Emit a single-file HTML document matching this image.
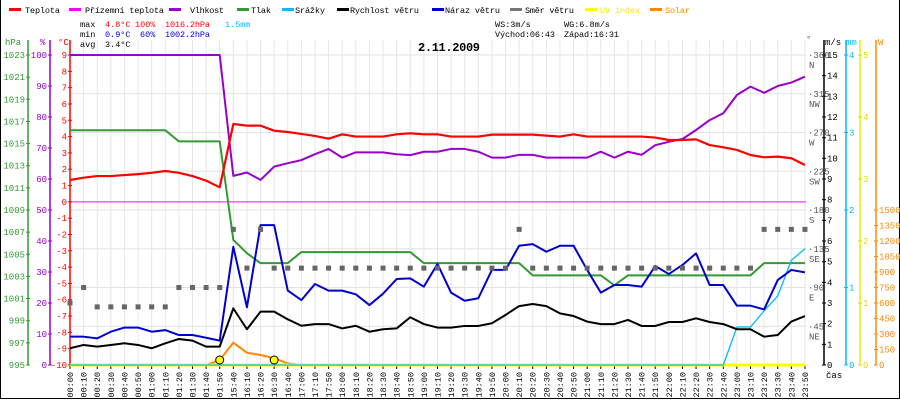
<!DOCTYPE html>
<html><head><meta charset="utf-8"><style>
html,body{margin:0;padding:0;background:#fff;}
svg{display:block;font-family:"Liberation Mono",monospace;}
</style></head><body>
<svg id="chart" width="900" height="400" viewBox="0 0 900 400" xmlns="http://www.w3.org/2000/svg">
<rect x="0" y="0" width="900" height="400" fill="#fff"/>
<line x1="0.5" y1="0" x2="0.5" y2="399" stroke="#000"/>
<line x1="899.5" y1="0" x2="899.5" y2="399" stroke="#000"/>
<line x1="0" y1="398.5" x2="900" y2="398.5" stroke="#000"/>
<g id="grid"></g>
<g id="legend" font-size="8.5">
  <g><rect x="9" y="8" width="12" height="3" fill="#f00"/><text x="25" y="13" textLength="35">Teplota</text></g>
  <g><rect x="69" y="8" width="12" height="3" fill="#f0f"/><text x="85" y="13" textLength="79">Přízemní teplota</text></g>
  <g><rect x="169" y="8" width="12" height="3" fill="#90c"/><text x="190" y="13" textLength="34">Vlhkost</text></g>
  <g><rect x="237" y="8" width="12" height="3" fill="#393"/><text x="251" y="13" textLength="20">Tlak</text></g>
  <g><rect x="282" y="8" width="12" height="3" fill="#0bf"/><text x="295" y="13" textLength="30">Srážky</text></g>
  <g><rect x="337" y="8" width="12" height="3" fill="#000"/><text x="350" y="13" textLength="69">Rychlost větru</text></g>
  <g><rect x="432" y="8" width="12" height="3" fill="#00c"/><text x="445" y="13" textLength="55">Náraz větru</text></g>
  <g><rect x="510" y="8" width="12" height="3" fill="#777"/><text x="525" y="13" textLength="49">Směr větru</text></g>
  <g><rect x="585" y="8" width="12" height="3" fill="#ff0"/><text x="600" y="13" textLength="40" fill="#ee0">UV index</text></g>
  <g><rect x="650" y="8" width="12" height="3" fill="#f80"/><text x="665" y="13" textLength="25" fill="#f80">Solar</text></g>
</g>
<g id="stats" font-size="8.5">
  <text x="80" y="27">max</text>
  <text x="105" y="27" fill="#f00">4.8°C</text>
  <text x="135" y="27" fill="#f00">100%</text>
  <text x="165" y="27" fill="#f00" textLength="45">1016.2hPa</text>
  <text x="225" y="27" fill="#0bf">1.5mm</text>
  <text x="80" y="37">min</text>
  <text x="105" y="37" fill="#00c">0.9°C</text>
  <text x="140" y="37" fill="#00c">60%</text>
  <text x="165" y="37" fill="#00c" textLength="45">1002.2hPa</text>
  <text x="80" y="47">avg</text>
  <text x="105" y="47">3.4°C</text>
  <text x="495" y="27">WS:3m/s</text>
  <text x="564" y="27">WG:6.8m/s</text>
  <text x="495" y="37" textLength="60">Východ:06:43</text>
  <text x="564" y="37" textLength="55">Západ:16:31</text>
</g>
<text x="418" y="51" font-size="12" font-weight="bold" textLength="62">2.11.2009</text>
<g id="axes"></g>
<g id="series"></g>
</svg>
<script>
const times=["00:00","00:10","00:20","00:30","00:40","00:50","01:00","01:10","01:20","01:30","01:40","01:50","15:40","16:10","16:20","16:30","16:40","17:00","17:10","17:50","18:00","18:10","18:20","18:30","18:40","18:50","19:00","19:10","19:20","19:30","19:40","19:50","20:00","20:10","20:20","20:30","20:40","20:50","21:00","21:10","21:20","21:30","21:40","21:50","22:00","22:10","22:20","22:30","22:40","23:00","23:10","23:20","23:30","23:40","23:50"];
const temperature=[1.34,1.48,1.58,1.58,1.64,1.70,1.78,1.89,1.78,1.58,1.30,0.89,4.77,4.67,4.67,4.36,4.28,4.16,4.04,3.87,4.14,4.0,4.0,4.0,4.14,4.2,4.14,4.14,4.0,4.0,4.0,4.12,4.12,4.12,4.12,4.06,4.0,4.14,4.0,4.0,4.0,4.0,4.0,3.94,3.79,3.79,3.83,3.48,3.34,3.18,2.87,2.73,2.77,2.67,2.26];
const humidity=[100,100,100,100,100,100,100,100,100,100,100,100,61.0,62.1,59.7,64.0,65.1,66.1,68.0,69.7,66.9,68.6,68.6,68.6,68.0,67.7,68.8,68.8,69.7,69.7,68.8,66.9,66.9,67.8,67.8,66.9,66.9,66.9,66.9,68.8,66.9,68.8,67.8,70.9,72.0,72.9,75.8,79.0,81.2,87.1,89.8,87.8,90.0,91.1,93.0];
const pressure=[1016.2,1016.2,1016.2,1016.2,1016.2,1016.2,1016.2,1016.2,1015.2,1015.2,1015.2,1015.2,1006.3,1005.1,1004.2,1004.2,1004.2,1005.2,1005.2,1005.2,1005.2,1005.2,1005.2,1005.2,1005.2,1005.2,1004.2,1004.2,1004.2,1004.2,1004.2,1004.2,1004.2,1004.2,1003.1,1003.1,1003.1,1003.1,1003.1,1003.1,1002.2,1003.1,1003.1,1003.1,1003.1,1003.1,1003.1,1003.1,1003.1,1003.1,1003.1,1004.2,1004.2,1004.2,1004.2];
const windSpeed=[0.81,0.97,0.89,0.97,1.05,0.97,0.81,1.05,1.26,1.18,0.89,0.89,2.74,1.73,2.58,2.58,2.21,1.90,1.98,1.98,1.77,1.90,1.61,1.73,1.77,2.31,1.98,1.81,1.81,1.89,1.89,2.02,2.42,2.85,2.95,2.85,2.50,2.37,2.10,1.98,1.98,2.18,1.89,1.89,2.08,2.08,2.26,2.08,1.98,1.73,1.73,1.37,1.45,2.10,2.37];
const windGust=[1.37,1.37,1.29,1.61,1.81,1.81,1.61,1.69,1.45,1.45,1.32,1.18,5.72,2.79,6.77,6.77,3.60,3.14,3.92,3.60,3.60,3.42,2.90,3.45,4.16,4.19,3.79,4.89,3.50,3.11,3.23,4.60,4.60,5.77,5.85,5.48,5.77,5.77,4.60,3.50,3.87,3.87,3.79,4.79,4.40,4.84,5.40,3.87,3.87,2.87,2.87,2.69,4.11,4.60,4.48];
const windDir=[72,90,67.5,67.5,67.5,67.5,67.5,67.5,90,90,90,90,157.5,112.5,157.5,112.5,112.5,112.5,112.5,112.5,112.5,112.5,112.5,112.5,112.5,112.5,112.5,112.5,112.5,112.5,112.5,112.5,112.5,157.5,112.5,112.5,112.5,112.5,112.5,112.5,112.5,112.5,112.5,112.5,112.5,112.5,112.5,112.5,112.5,112.5,112.5,157.5,157.5,157.5,157.5];
const rain=[0,0,0,0,0,0,0,0,0,0,0,0,0,0,0,0,0,0,0,0,0,0,0,0,0,0,0,0,0,0,0,0,0,0,0,0,0,0,0,0,0,0,0,0,0,0,0,0,0,0.49,0.49,0.70,0.89,1.35,1.5];
const solar=[0,0,0,0,0,0,0,0,0,0,0,48,216,119,97,65,16,0,0,0,0,0,0,0,0,0,0,0,0,0,0,0,0,0,0,0,0,0,0,0,0,0,0,0,0,0,0,0,0,0,0,0,0,0,0];
const uvIndex=new Array(55).fill(0);
const sunMarks=[11,15];
const hpaTicks=[1023,1021,1019,1017,1015,1013,1011,1009,1007,1005,1003,1001,999,997,995];
const humTicks=[100,90,80,70,60,50,40,30,20,10,0];
const tempTicks=[9,8,7,6,5,4,3,2,1,0,-1,-2,-3,-4,-5,-6,-7,-8,-9,-10];
const msTicks=[0,1,2,3,4,5,6,7,8,9,10,11,12,13,14,15];
const mmTicks=[0,1,2,3,4];
const uvTicks=[0,1,2,3,4,5];
const wTicks=[0,150,300,450,600,750,900,1050,1200,1350,1500];
const dirTicks=[360,315,270,225,180,135,90,45];
const dirNames=["N","NW","W","SW","S","SE","E","NE"];

const NS="http://www.w3.org/2000/svg";
const X=i=>70+i*13.61;
const yT=t=>55+(9-t)*310/19;
const yH=h=>55+(100-h)*3.1;
const yP=p=>55+(1023-p)*310/28;
const yW=w=>365-w*310/15;
const yD=d=>365-d*310/360;
const yR=r=>365-r*77.5;
const yS=s=>365-s*155/1500;
const yU=u=>365-u*62;
function mk(tag,attrs,parent){const e=document.createElementNS(NS,tag);for(const k in attrs)e.setAttribute(k,attrs[k]);parent.appendChild(e);return e;}
const grid=document.getElementById('grid'),axes=document.getElementById('axes'),series=document.getElementById('series');

times.forEach((t,i)=>{const l=mk('line',{x1:X(i),y1:40,x2:X(i),y2:365,stroke:'#e6e6e6'},grid);

});
[55].concat(dirTicks.slice(1).map(yD)).forEach(y=>{const l=mk('line',{x1:70,y1:y,x2:806,y2:y,stroke:'#e2e2e2'},grid);

});
const zl=mk('line',{x1:70,y1:yT(0),x2:806,y2:yT(0),stroke:'#f0f'},grid);



function axisLine(x,color,name){const l=mk('line',{x1:x,y1:40,x2:x,y2:365,stroke:color,'stroke-width':1.5},axes);

}
function tickLabels(vals,fy,x,anchor,color,name,tx){vals.forEach(v=>{const y=fy(v);
mk('line',{x1:tx-2,y1:y,x2:tx+2,y2:y,stroke:color},axes);
const t=mk('text',{x:x,y:y+3,'text-anchor':anchor,fill:color,'font-size':9},axes);t.textContent=v;

});}
axisLine(28,'#393','hpa-axis');axisLine(50,'#90c','humidity-axis');axisLine(70,'#f00','temp-axis');
axisLine(824,'#000','ms-axis');axisLine(846,'#0bf','mm-axis');axisLine(860,'#ee0','uv-axis');axisLine(876,'#f80','w-axis');
tickLabels(hpaTicks,yP,25,'end','#393','hpa-tick-label',28);
tickLabels(humTicks,yH,47,'end','#90c','humidity-tick-label',50);
tickLabels(tempTicks,yT,67,'end','#f00','temp-tick-label',70);
tickLabels(msTicks,yW,827,'start','#000','ms-tick-label',824);
tickLabels(mmTicks,yR,849,'start','#0bf','mm-tick-label',846);
tickLabels(uvTicks,yU,863,'start','#dd0','uv-tick-label',860);
tickLabels(wTicks,yS,879,'start','#f80','w-tick-label',876);
dirTicks.forEach((d,k)=>{const y=yD(d);
const t=mk('text',{x:808,y:y+3,fill:'#555','font-size':9},axes);t.textContent='·'+d;


const n=mk('text',{x:809,y:y+13,fill:'#555','font-size':9},axes);n.textContent=dirNames[k];

});
[['hPa',5,45,'#393'],['%',40,45,'#90c'],['°C',58,45,'#f00'],['°',806,42,'#555'],['m/s',825,45,'#000'],['mm',846,45,'#0bf'],['W',878,45,'#f80'],['čas',826,378,'#000']].forEach(a=>{
const t=mk('text',{x:a[1],y:a[2],fill:a[3],'font-size':9},axes);t.textContent=a[0];

});
times.forEach((tm,i)=>{mk('line',{x1:X(i),y1:366,x2:X(i),y2:369,stroke:'#000'},axes);
const t=mk('text',{x:0,y:0,'font-size':8.5,'text-anchor':'end',transform:`translate(${X(i)+3},372) rotate(-90)`},axes);t.textContent=tm;

});

function line(vals,fy,color,w,name){const p=mk('polyline',{points:vals.map((v,i)=>X(i)+','+fy(v)).join(' '),fill:'none',stroke:color,'stroke-width':w,'stroke-linejoin':'round'},series);

}
line(solar,yS,'#f80',2,'solar-line');
line(uvIndex,yU,'#ff0',3,'uv-line');
line(pressure,yP,'#393',2,'pressure-line');
line(rain,yR,'#0bf',1.3,'rain-line');
line(windSpeed,yW,'#000',2,'wind-speed-line');
line(windGust,yW,'#00c',2,'wind-gust-line');
line(humidity,yH,'#90c',2,'humidity-line');
line(temperature,yT,'#f00',2.2,'temperature-line');
windDir.forEach((d,i)=>{const r=mk('rect',{x:X(i)-2.5,y:yD(d)-2.5,width:5,height:5,fill:'#666'},series);

});
sunMarks.forEach(i=>{const c=mk('circle',{cx:X(i),cy:360,r:4,fill:'#ff0',stroke:'#000','stroke-width':1},series);

});
</script>
</body></html>
